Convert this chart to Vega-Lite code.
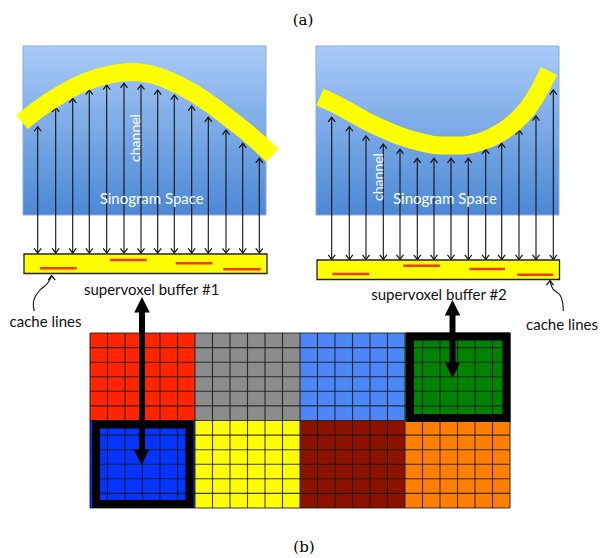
{
  "$schema": "https://vega.github.io/schema/vega-lite/v6.json",
  "width": 600,
  "height": 558,
  "padding": 0,
  "autosize": {"type": "none"},
  "config": {"view": {"stroke": null}},
  "encoding": {
    "x": {"field": "x", "type": "quantitative", "scale": {"domain": [0, 600], "nice": false, "zero": false}, "axis": null},
    "y": {"field": "y", "type": "quantitative", "scale": {"domain": [0, 558], "nice": false, "zero": false, "reverse": true}, "axis": null}
  },
  "layer": [
    {
      "data": {"values": [
        {"x": 23, "x2": 266, "y": 46, "y2": 215},
        {"x": 316, "x2": 559, "y": 46, "y2": 215}
      ]},
      "mark": {"type": "rect", "fill": {"gradient": "linear", "x1": 0, "y1": 0, "x2": 0, "y2": 1, "stops": [{"offset": 0, "color": "#a9cbf8"}, {"offset": 1, "color": "#4c88d5"}]}, "stroke": "#88acdc", "strokeWidth": 1},
      "encoding": {"x2": {"field": "x2"}, "y2": {"field": "y2"}}
    },
    {
      "data": {"values": [
        {"x": 37.7, "y": 126.7, "y2": 253}, {"x": 55.7, "y": 107.3, "y2": 253}, {"x": 72.7, "y": 98.3, "y2": 253}, {"x": 89.3, "y": 90, "y2": 253},
        {"x": 106.7, "y": 85, "y2": 253}, {"x": 124, "y": 83.3, "y2": 253}, {"x": 141, "y": 85, "y2": 253}, {"x": 157.7, "y": 90, "y2": 253},
        {"x": 174.3, "y": 95, "y2": 253}, {"x": 191.7, "y": 106, "y2": 253}, {"x": 208.3, "y": 117.3, "y2": 253}, {"x": 226, "y": 130, "y2": 253},
        {"x": 242.7, "y": 143.3, "y2": 253}, {"x": 259.3, "y": 158.3, "y2": 253},
        {"x": 331.7, "y": 117.3, "y2": 259.5}, {"x": 349.3, "y": 126.7, "y2": 259.5}, {"x": 366, "y": 136, "y2": 259.5}, {"x": 383.3, "y": 144, "y2": 259.5},
        {"x": 400, "y": 149.3, "y2": 259.5}, {"x": 417.3, "y": 158.3, "y2": 259.5}, {"x": 434, "y": 158.3, "y2": 259.5}, {"x": 451, "y": 158.3, "y2": 259.5},
        {"x": 468.3, "y": 158.3, "y2": 259.5}, {"x": 485.7, "y": 149.3, "y2": 259.5}, {"x": 501.7, "y": 143.3, "y2": 259.5}, {"x": 519, "y": 130, "y2": 259.5},
        {"x": 536, "y": 116, "y2": 259.5}, {"x": 553.3, "y": 90, "y2": 259.5}
      ]},
      "mark": {"type": "rule", "color": "#111111", "strokeWidth": 1.1},
      "encoding": {"y2": {"field": "y2"}}
    },
    {
      "data": {"values": [
        {"x": 37.7, "y": 126.7}, {"x": 55.7, "y": 107.3}, {"x": 72.7, "y": 98.3}, {"x": 89.3, "y": 90},
        {"x": 106.7, "y": 85}, {"x": 124, "y": 83.3}, {"x": 141, "y": 85}, {"x": 157.7, "y": 90},
        {"x": 174.3, "y": 95}, {"x": 191.7, "y": 106}, {"x": 208.3, "y": 117.3}, {"x": 226, "y": 130},
        {"x": 242.7, "y": 143.3}, {"x": 259.3, "y": 158.3},
        {"x": 331.7, "y": 117.3}, {"x": 349.3, "y": 126.7}, {"x": 366, "y": 136}, {"x": 383.3, "y": 144},
        {"x": 400, "y": 149.3}, {"x": 417.3, "y": 158.3}, {"x": 434, "y": 158.3}, {"x": 451, "y": 158.3},
        {"x": 468.3, "y": 158.3}, {"x": 485.7, "y": 149.3}, {"x": 501.7, "y": 143.3}, {"x": 519, "y": 130},
        {"x": 536, "y": 116}, {"x": 553.3, "y": 90}
      ]},
      "mark": {"type": "point", "shape": "M-1,1.3L0,0L1,1.3", "filled": false, "color": "#111111", "opacity": 1, "strokeWidth": 1.2, "size": 49}
    },
    {
      "data": {"values": [
        {"x": 37.7, "y": 253}, {"x": 55.7, "y": 253}, {"x": 72.7, "y": 253}, {"x": 89.3, "y": 253},
        {"x": 106.7, "y": 253}, {"x": 124, "y": 253}, {"x": 141, "y": 253}, {"x": 157.7, "y": 253},
        {"x": 174.3, "y": 253}, {"x": 191.7, "y": 253}, {"x": 208.3, "y": 253}, {"x": 226, "y": 253},
        {"x": 242.7, "y": 253}, {"x": 259.3, "y": 253},
        {"x": 331.7, "y": 259.5}, {"x": 349.3, "y": 259.5}, {"x": 366, "y": 259.5}, {"x": 383.3, "y": 259.5},
        {"x": 400, "y": 259.5}, {"x": 417.3, "y": 259.5}, {"x": 434, "y": 259.5}, {"x": 451, "y": 259.5},
        {"x": 468.3, "y": 259.5}, {"x": 485.7, "y": 259.5}, {"x": 501.7, "y": 259.5}, {"x": 519, "y": 259.5},
        {"x": 536, "y": 259.5}, {"x": 553.3, "y": 259.5}
      ]},
      "mark": {"type": "point", "shape": "M-1,-1.3L0,0L1,-1.3", "filled": false, "color": "#111111", "opacity": 1, "strokeWidth": 1.2, "size": 49}
    },
    {
      "data": {"values": [
        {"id": "L", "o": 0, "x": 22, "y": 122}, {"id": "L", "o": 1, "x": 40, "y": 108}, {"id": "L", "o": 2, "x": 60, "y": 95},
        {"id": "L", "o": 3, "x": 85, "y": 82}, {"id": "L", "o": 4, "x": 110, "y": 74.5}, {"id": "L", "o": 5, "x": 130, "y": 72},
        {"id": "L", "o": 6, "x": 150, "y": 74}, {"id": "L", "o": 7, "x": 170, "y": 81}, {"id": "L", "o": 8, "x": 190, "y": 91},
        {"id": "L", "o": 9, "x": 210, "y": 104}, {"id": "L", "o": 10, "x": 230, "y": 119}, {"id": "L", "o": 11, "x": 250, "y": 135},
        {"id": "L", "o": 12, "x": 272.5, "y": 155.3},
        {"id": "R", "o": 0, "x": 320, "y": 97}, {"id": "R", "o": 1, "x": 335, "y": 104}, {"id": "R", "o": 2, "x": 350, "y": 112},
        {"id": "R", "o": 3, "x": 366, "y": 121}, {"id": "R", "o": 4, "x": 383, "y": 129}, {"id": "R", "o": 5, "x": 400, "y": 136},
        {"id": "R", "o": 6, "x": 420, "y": 142}, {"id": "R", "o": 7, "x": 440, "y": 145.5}, {"id": "R", "o": 8, "x": 460, "y": 145.5},
        {"id": "R", "o": 9, "x": 480, "y": 142}, {"id": "R", "o": 10, "x": 500, "y": 133}, {"id": "R", "o": 11, "x": 515, "y": 122},
        {"id": "R", "o": 12, "x": 528, "y": 108}, {"id": "R", "o": 13, "x": 540, "y": 89}, {"id": "R", "o": 14, "x": 549, "y": 71}
      ]},
      "mark": {"type": "line", "color": "#ffff00", "strokeWidth": 18, "strokeCap": "butt", "interpolate": "monotone"},
      "encoding": {"detail": {"field": "id"}, "order": {"field": "o"}}
    },
    {
      "data": {"values": [
        {"x": 151.7, "y": 198.5, "t": "Sinogram Space"},
        {"x": 445, "y": 198.5, "t": "Sinogram Space"}
      ]},
      "mark": {"type": "text", "font": "Lato", "fontSize": 15, "color": "white", "baseline": "middle", "align": "center"},
      "encoding": {"text": {"field": "t"}}
    },
    {
      "data": {"values": [
        {"x": 136, "y": 138, "t": "channel"},
        {"x": 378.5, "y": 177, "t": "channel"}
      ]},
      "mark": {"type": "text", "font": "Lato", "fontSize": 14, "color": "white", "baseline": "middle", "align": "center", "angle": 270},
      "encoding": {"text": {"field": "t"}}
    },
    {
      "data": {"values": [
        {"x": 24, "x2": 267, "y": 254, "y2": 273.5},
        {"x": 317, "x2": 559.5, "y": 260, "y2": 279.5}
      ]},
      "mark": {"type": "rect", "color": "#ffff00", "stroke": "#222222", "strokeWidth": 1.3},
      "encoding": {"x2": {"field": "x2"}, "y2": {"field": "y2"}}
    },
    {
      "data": {"values": [
        {"x": 40, "x2": 76.7, "y": 268.3}, {"x": 110, "x2": 146.7, "y": 260}, {"x": 175.7, "x2": 212.3, "y": 263.3}, {"x": 223.3, "x2": 260.7, "y": 269.3},
        {"x": 332.3, "x2": 369.3, "y": 274}, {"x": 403.3, "x2": 440, "y": 265.7}, {"x": 469.3, "x2": 505, "y": 269}, {"x": 517.3, "x2": 553.3, "y": 274.7}
      ]},
      "mark": {"type": "rule", "color": "#f2380f", "strokeWidth": 2.6},
      "encoding": {"x2": {"field": "x2"}}
    },
    {
      "data": {"values": [
        {"x": 151.7, "y": 290, "t": "supervoxel buffer #1"},
        {"x": 439, "y": 295, "t": "supervoxel buffer #2"},
        {"x": 45.5, "y": 322, "t": "cache lines"},
        {"x": 562, "y": 325, "t": "cache lines"}
      ]},
      "mark": {"type": "text", "font": "Lato", "fontSize": 15, "color": "#111111", "baseline": "middle", "align": "center"},
      "encoding": {"text": {"field": "t"}}
    },
    {
      "data": {"values": [
        {"id": "L", "o": 0, "x": 51.7, "y": 276}, {"id": "L", "o": 1, "x": 47, "y": 284}, {"id": "L", "o": 2, "x": 40, "y": 290},
        {"id": "L", "o": 3, "x": 35, "y": 297}, {"id": "L", "o": 4, "x": 33.3, "y": 304}, {"id": "L", "o": 5, "x": 34.3, "y": 311},
        {"id": "R", "o": 0, "x": 550, "y": 281}, {"id": "R", "o": 1, "x": 553, "y": 289}, {"id": "R", "o": 2, "x": 560, "y": 295},
        {"id": "R", "o": 3, "x": 562.7, "y": 303}, {"id": "R", "o": 4, "x": 563.3, "y": 311}
      ]},
      "mark": {"type": "line", "color": "#111111", "strokeWidth": 1.1, "interpolate": "catmull-rom"},
      "encoding": {"detail": {"field": "id"}, "order": {"field": "o"}}
    },
    {
      "data": {"values": [
        {"x": 51.7, "y": 275.5}, {"x": 550, "y": 280.5}
      ]},
      "mark": {"type": "point", "shape": "M-1,1.3L0,0L1,1.3", "filled": false, "color": "#111111", "opacity": 1, "strokeWidth": 1.3, "size": 49}
    },
    {
      "data": {"values": [
        {"x": 90, "x2": 195, "y": 333, "y2": 420.5, "c": "red"},
        {"x": 195, "x2": 300, "y": 333, "y2": 420.5, "c": "gray"},
        {"x": 300, "x2": 405, "y": 333, "y2": 420.5, "c": "lightblue"},
        {"x": 405, "x2": 510, "y": 333, "y2": 420.5, "c": "green"},
        {"x": 90, "x2": 195, "y": 420.5, "y2": 508, "c": "blue"},
        {"x": 195, "x2": 300, "y": 420.5, "y2": 508, "c": "yellow"},
        {"x": 300, "x2": 405, "y": 420.5, "y2": 508, "c": "darkred"},
        {"x": 405, "x2": 510, "y": 420.5, "y2": 508, "c": "orange"}
      ]},
      "mark": {"type": "rect"},
      "encoding": {
        "x2": {"field": "x2"}, "y2": {"field": "y2"},
        "color": {"field": "c", "type": "nominal", "legend": null, "scale": {
          "domain": ["red", "gray", "lightblue", "green", "blue", "yellow", "darkred", "orange"],
          "range": ["#ff2500", "#8c8c8c", "#4d86f7", "#008300", "#0534ff", "#ffff00", "#8c1200", "#ff7f00"]}}
      }
    },
    {
      "data": {"values": [
        {"x": 90, "x2": 90, "y": 333, "y2": 508}, {"x": 107.5, "x2": 107.5, "y": 333, "y2": 508}, {"x": 125, "x2": 125, "y": 333, "y2": 508},
        {"x": 142.5, "x2": 142.5, "y": 333, "y2": 508}, {"x": 160, "x2": 160, "y": 333, "y2": 508}, {"x": 177.5, "x2": 177.5, "y": 333, "y2": 508},
        {"x": 195, "x2": 195, "y": 333, "y2": 508}, {"x": 212.5, "x2": 212.5, "y": 333, "y2": 508}, {"x": 230, "x2": 230, "y": 333, "y2": 508},
        {"x": 247.5, "x2": 247.5, "y": 333, "y2": 508}, {"x": 265, "x2": 265, "y": 333, "y2": 508}, {"x": 282.5, "x2": 282.5, "y": 333, "y2": 508},
        {"x": 300, "x2": 300, "y": 333, "y2": 508}, {"x": 317.5, "x2": 317.5, "y": 333, "y2": 508}, {"x": 335, "x2": 335, "y": 333, "y2": 508},
        {"x": 352.5, "x2": 352.5, "y": 333, "y2": 508}, {"x": 370, "x2": 370, "y": 333, "y2": 508}, {"x": 387.5, "x2": 387.5, "y": 333, "y2": 508},
        {"x": 405, "x2": 405, "y": 333, "y2": 508}, {"x": 422.5, "x2": 422.5, "y": 333, "y2": 508}, {"x": 440, "x2": 440, "y": 333, "y2": 508},
        {"x": 457.5, "x2": 457.5, "y": 333, "y2": 508}, {"x": 475, "x2": 475, "y": 333, "y2": 508}, {"x": 492.5, "x2": 492.5, "y": 333, "y2": 508},
        {"x": 510, "x2": 510, "y": 333, "y2": 508},
        {"x": 90, "x2": 510, "y": 333, "y2": 333}, {"x": 90, "x2": 510, "y": 347.6, "y2": 347.6}, {"x": 90, "x2": 510, "y": 362.2, "y2": 362.2},
        {"x": 90, "x2": 510, "y": 376.8, "y2": 376.8}, {"x": 90, "x2": 510, "y": 391.3, "y2": 391.3}, {"x": 90, "x2": 510, "y": 405.9, "y2": 405.9},
        {"x": 90, "x2": 510, "y": 420.5, "y2": 420.5}, {"x": 90, "x2": 510, "y": 435.1, "y2": 435.1}, {"x": 90, "x2": 510, "y": 449.7, "y2": 449.7},
        {"x": 90, "x2": 510, "y": 464.3, "y2": 464.3}, {"x": 90, "x2": 510, "y": 478.8, "y2": 478.8}, {"x": 90, "x2": 510, "y": 493.4, "y2": 493.4},
        {"x": 90, "x2": 510, "y": 508, "y2": 508}
      ]},
      "mark": {"type": "rule", "color": "#1a1a1a", "strokeWidth": 1.1, "opacity": 0.85},
      "encoding": {"x2": {"field": "x2"}, "y2": {"field": "y2"}}
    },
    {
      "data": {"values": [
        {"x": 96, "x2": 189.5, "y": 424.5, "y2": 504},
        {"x": 410, "x2": 506.5, "y": 336.5, "y2": 418}
      ]},
      "mark": {"type": "rect", "fillOpacity": 0, "stroke": "#000000", "strokeWidth": 8},
      "encoding": {"x2": {"field": "x2"}, "y2": {"field": "y2"}}
    },
    {
      "data": {"values": [
        {"x": 142, "y": 308, "y2": 452},
        {"x": 452.5, "y": 311, "y2": 365}
      ]},
      "mark": {"type": "rule", "color": "#000000", "strokeWidth": 6},
      "encoding": {"y2": {"field": "y2"}}
    },
    {
      "data": {"values": [
        {"x": 142, "y": 297}, {"x": 452.5, "y": 300}
      ]},
      "mark": {"type": "point", "shape": "M0,0L-1,2L1,2Z", "filled": true, "color": "#000000", "opacity": 1, "size": 240}
    },
    {
      "data": {"values": [
        {"x": 141.5, "y": 465}, {"x": 452.5, "y": 378}
      ]},
      "mark": {"type": "point", "shape": "M0,0L-1,-2L1,-2Z", "filled": true, "color": "#000000", "opacity": 1, "size": 240}
    },
    {
      "data": {"values": [
        {"x": 303, "y": 20, "t": "(a)"},
        {"x": 304, "y": 547, "t": "(b)"}
      ]},
      "mark": {"type": "text", "font": "DejaVu Serif", "fontSize": 15, "color": "#000000", "baseline": "middle", "align": "center"},
      "encoding": {"text": {"field": "t"}}
    }
  ]
}
